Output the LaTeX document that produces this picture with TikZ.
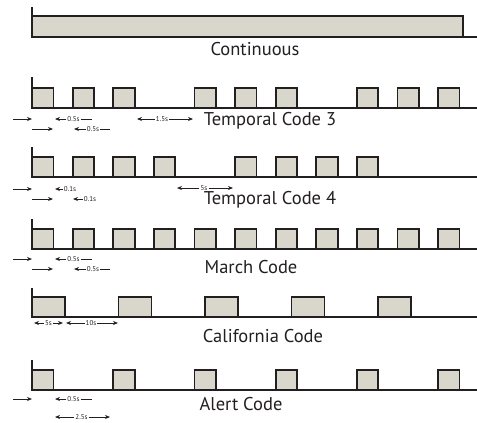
\documentclass[tikz,border=0pt]{standalone}
\usepackage{fontspec}
\setmainfont{PT Sans}
\usepackage{xcolor}
\usetikzlibrary{arrows.meta, positioning}
\definecolor{pulsegray}{RGB}{217,214,203}
\definecolor{ink}{RGB}{35,31,32}

\begin{document}
\begin{tikzpicture}[
        x=1pt, y=-1pt,
        pulse/.style={draw=ink, fill=pulsegray, line width=1.8pt},
        axis/.style={draw=ink, line width=1.5pt},
        dim/.style={-{Stealth[length=5pt, width=4pt]}, draw=ink, line width=0.8pt},
        bar/.style={draw=ink, line width=0.8pt},
        tag/.style={font=\fontsize{7}{7}\selectfont, text=ink, inner sep=1pt},
        title/.style={font=\fontsize{18.5}{18.5}\selectfont, text=ink}
    ]
        \useasboundingbox (0,0) rectangle (477,423);

        % Continuous
        \draw[axis] (32,7) -- (32,37) -- (477,37);
        \draw[pulse] (32,37) rectangle (463,16);
        \node[title] (cont) at (255,49) {Continuous};

        % Temporal Code 3
        \draw[axis] (32,77) -- (32,108) -- (477,108);
        \foreach \k in {0,1,2,4,5,6,8,9,10}
            \draw[pulse] (32+40.6*\k,108) rectangle ++(21.5,-20);
        \node[title] (tc3) at (270,121) {Temporal Code 3};
        \coordinate (tc3a) at (13,119);
        \coordinate (tc3b) at (32,119);
        \coordinate (tc3c) at (32,129);
        \coordinate (tc3d) at (53,129);
        \draw[dim] (tc3a) -- (tc3b);
        \draw[dim] (tc3c) -- (tc3d);
        \node[tag] (tc3on) at (73.5,119) {0.5s};
        \coordinate (tc3onl) at (55,119);
        \coordinate (tc3onr) at (92,119);
        \draw[dim] (tc3on.west) -- (tc3onl);
        \draw[bar] (tc3on.east) -- (tc3onr);
        \node[tag] (tc3off) at (93,129) {0.5s};
        \coordinate (tc3offl) at (74,129);
        \coordinate (tc3offr) at (110,129);
        \draw[dim] (tc3off.west) -- (tc3offl);
        \draw[bar] (tc3off.east) -- (tc3offr);
        \node[tag] (tc3gap) at (162,119) {1.5s};
        \coordinate (tc3gapl) at (137,119);
        \coordinate (tc3gapr) at (193,119);
        \draw[dim] (tc3gap.west) -- (tc3gapl);
        \draw[dim] (tc3gap.east) -- (tc3gapr);

        % Temporal Code 4
        \draw[axis] (32,147) -- (32,177) -- (477,177);
        \foreach \k in {0,1,2,3,5,6,7,8}
            \draw[pulse] (32+40.6*\k,177) rectangle ++(21.5,-20);
        \node[title] (tc4) at (270,200) {Temporal Code 4};
        \coordinate (tc4a) at (13,189);
        \coordinate (tc4b) at (32,189);
        \coordinate (tc4c) at (32,199);
        \coordinate (tc4d) at (53,199);
        \draw[dim] (tc4a) -- (tc4b);
        \draw[dim] (tc4c) -- (tc4d);
        \node[tag] (tc4on) at (70,189) {0.1s};
        \coordinate (tc4onl) at (55,189);
        \draw[dim] (tc4on.west) -- (tc4onl);
        \node[tag] (tc4off) at (90,199) {0.1s};
        \coordinate (tc4offl) at (73,199);
        \draw[dim] (tc4off.west) -- (tc4offl);
        \node[tag] (tc4gap) at (204,188) {5s};
        \coordinate (tc4gapl) at (177,188);
        \coordinate (tc4gapr) at (233,188);
        \draw[dim] (tc4gap.west) -- (tc4gapl);
        \draw[dim] (tc4gap.east) -- (tc4gapr);

        % March Code
        \draw[axis] (32,219) -- (32,249) -- (477,249);
        \foreach \k in {0,...,10}
            \draw[pulse] (32+40.6*\k,249) rectangle ++(21.5,-20);
        \node[title] (march) at (251,267) {March Code};
        \coordinate (mca) at (13,259);
        \coordinate (mcb) at (32,259);
        \coordinate (mcc) at (32,269);
        \coordinate (mcd) at (53,269);
        \draw[dim] (mca) -- (mcb);
        \draw[dim] (mcc) -- (mcd);
        \node[tag] (mcon) at (73.5,259) {0.5s};
        \coordinate (mconl) at (55,259);
        \coordinate (mconr) at (92,259);
        \draw[dim] (mcon.west) -- (mconl);
        \draw[bar] (mcon.east) -- (mconr);
        \node[tag] (mcoff) at (93,269) {0.5s};
        \coordinate (mcoffl) at (74,269);
        \coordinate (mcoffr) at (110,269);
        \draw[dim] (mcoff.west) -- (mcoffl);
        \draw[bar] (mcoff.east) -- (mcoffr);

        % California Code
        \draw[axis] (32,288) -- (32,317) -- (477,317);
        \foreach \k in {0,...,4}
            \draw[pulse] (32+86.5*\k,317) rectangle ++(33,-20);
        \node[title] (calif) at (263,336) {California Code};
        \node[tag] (caon) at (48.5,323) {5s};
        \coordinate (caonl) at (34,323);
        \coordinate (caonr) at (63,323);
        \draw[dim] (caon.west) -- (caonl);
        \draw[dim] (caon.east) -- (caonr);
        \node[tag] (caoff) at (91,323) {10s};
        \coordinate (caoffl) at (66,323);
        \coordinate (caoffr) at (118,323);
        \draw[dim] (caoff.west) -- (caoffl);
        \draw[dim] (caoff.east) -- (caoffr);

        % Alert Code
        \draw[axis] (32,360) -- (32,390) -- (477,390);
        \foreach \k in {0,...,5}
            \draw[pulse] (32+81.2*\k,390) rectangle ++(21.5,-20);
        \node[title] (alert) at (241,404) {Alert Code};
        \coordinate (ala) at (13,399);
        \coordinate (alb) at (32,399);
        \draw[dim] (ala) -- (alb);
        \node[tag] (alon) at (73.5,399) {0.5s};
        \coordinate (alonl) at (55,399);
        \coordinate (alonr) at (92,399);
        \draw[dim] (alon.west) -- (alonl);
        \draw[bar] (alon.east) -- (alonr);
        \node[tag] (alper) at (81.5,417) {2.5s};
        \coordinate (alperl) at (55,417);
        \coordinate (alperr) at (110,417);
        \draw[dim] (alper.west) -- (alperl);
        \draw[dim] (alper.east) -- (alperr);
    \end{tikzpicture}
\end{document}
